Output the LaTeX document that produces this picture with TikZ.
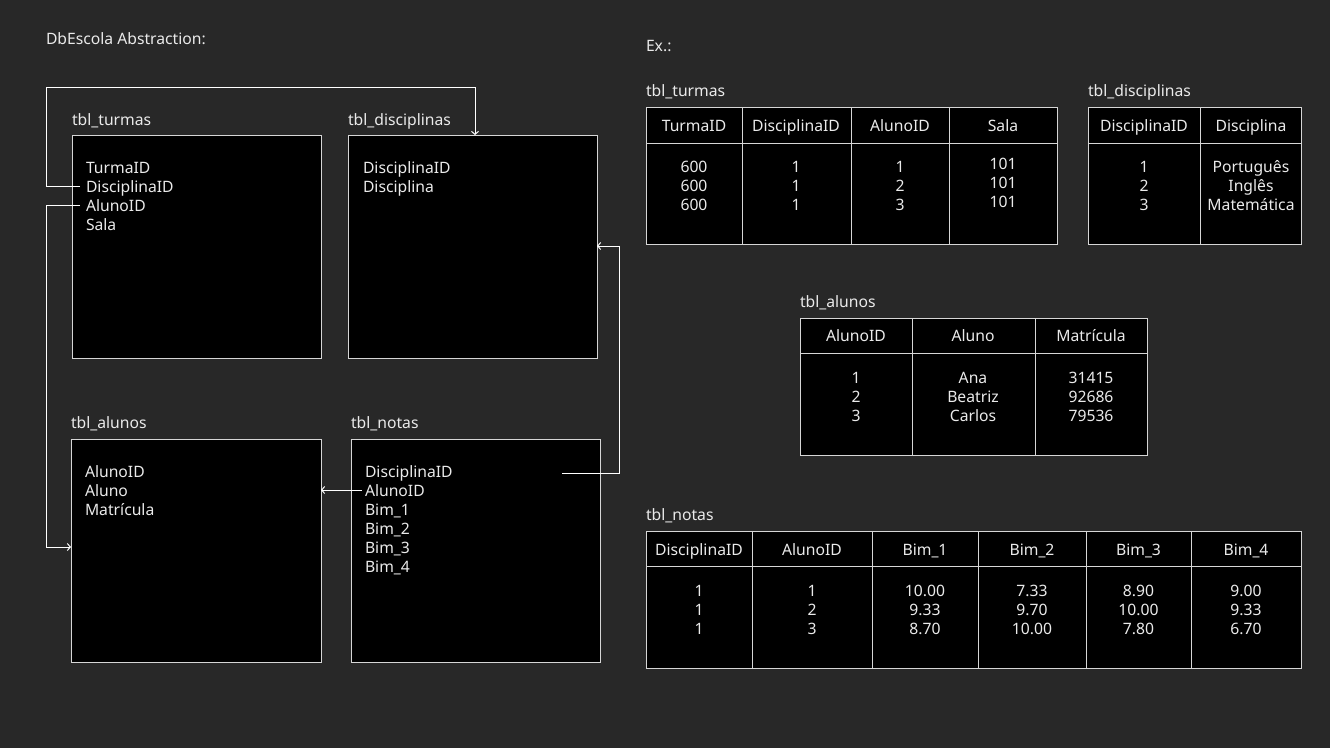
\documentclass[tikz,border=0pt]{standalone}
\usepackage{fontspec}
\setmainfont{Noto Sans}
\usetikzlibrary{arrows.meta}
\definecolor{bg}{HTML}{282828}
\definecolor{ink}{HTML}{EAEAEA}
\definecolor{rulec}{HTML}{D6D6D6}
\begin{document}
\begin{tikzpicture}[x=1pt,y=-1pt,
  every node/.style={text=ink,font=\fontsize{15.7}{19}\selectfont,inner sep=0pt,outer sep=0pt},
  one/.style={text height=12pt,text depth=0pt},
  lbl/.style={one,anchor=west},
  cell/.style={align=center},
  panel/.style={draw=rulec,fill=black,line width=1pt,anchor=north west},
  grid/.style={draw=rulec,line width=1pt},
  conn/.style={draw=white,line width=1pt},
  tip/.style={-{Straight Barb[length=3pt,width=7pt]}}]

\useasboundingbox[fill=bg] (0,0) rectangle (1330,748);

% ---------- titles ----------
\node[lbl] (title) at (46,38) {DbEscola Abstraction:};
\node[lbl] (ex) at (646,45) {Ex.:};

% ---------- schema panels ----------
\node[lbl] (lturmas) at (72,119) {tbl\_turmas};
\node[panel,minimum width=249pt,minimum height=223pt] (bturmas) at (72,135) {};
\node[lbl] (ldisc) at (348,119) {tbl\_disciplinas};
\node[panel,minimum width=249pt,minimum height=223pt] (bdisc) at (348,135) {};
\node[lbl] (lalunos) at (71,422) {tbl\_alunos};
\node[panel,minimum width=250pt,minimum height=223pt] (balunos) at (71,439) {};
\node[lbl] (lnotas) at (351,422) {tbl\_notas};
\node[panel,minimum width=249pt,minimum height=223pt] (bnotas) at (351,439) {};

% fields of tbl_turmas
\node[lbl] (t1) at (86,167) {TurmaID};
\node[lbl] (t2) at (86,186) {DisciplinaID};
\node[lbl] (t3) at (86,205) {AlunoID};
\node[lbl] (t4) at (86,224) {Sala};
% fields of tbl_disciplinas
\node[lbl] (d1) at (363,167) {DisciplinaID};
\node[lbl] (d2) at (363,186) {Disciplina};
% fields of tbl_alunos
\node[lbl] (a1) at (85,471) {AlunoID};
\node[lbl] (a2) at (85,490) {Aluno};
\node[lbl] (a3) at (85,509) {Matrícula};
% fields of tbl_notas
\node[lbl] (n1) at (365,471) {DisciplinaID};
\node[lbl] (n2) at (365,490) {AlunoID};
\node[lbl] (n3) at (365,509) {Bim\_1};
\node[lbl] (n4) at (365,528) {Bim\_2};
\node[lbl] (n5) at (365,547) {Bim\_3};
\node[lbl] (n6) at (365,566) {Bim\_4};

% ---------- relations ----------
\coordinate (s1) at (80,186);
\coordinate (s2) at (80,205);
\coordinate (s3) at (562,473);
\coordinate (s4) at (362,490);
\draw[conn,tip] (s1) -- (46,186) -- (46,87) -- (475,87) -- (bdisc.north -| 475,0);
\draw[conn,tip] (s2) -- (46,205) -- (46,547) -- (balunos.west |- 0,547);
\draw[conn,tip] (s3) -- (619,473) -- (619,246) -- (bdisc.east |- 0,246);
\draw[conn,tip] (s4) -- (balunos.east |- s4);

% ---------- example: tbl_turmas ----------
\node[lbl] (xturmas) at (646,90) {tbl\_turmas};
\node[panel,minimum width=411pt,minimum height=137pt] (gturmas) at (646,107) {};
\draw[grid] (646,143) -- (1057,143);
\foreach \x in {742,851,949} \draw[grid] (\x,107) -- (\x,244);
\foreach \x/\t [count=\i] in {694/TurmaID,796/DisciplinaID,900/AlunoID,1003/Sala}
  \node[one] (ht\i) at (\x,125) {\t};
\node[cell] (tc1) at (694,186) {600\\600\\600};
\node[cell] (tc2) at (796,186) {1\\1\\1};
\node[cell] (tc3) at (900,186) {1\\2\\3};
\node[cell] (tc4) at (1003,183) {101\\101\\101};

% ---------- example: tbl_disciplinas ----------
\node[lbl] (xdisc) at (1088,90) {tbl\_disciplinas};
\node[panel,minimum width=213pt,minimum height=137pt] (gdisc) at (1088,107) {};
\draw[grid] (1088,143) -- (1301,143);
\draw[grid] (1200,107) -- (1200,244);
\node[one] (hd1) at (1144,125) {DisciplinaID};
\node[one] (hd2) at (1251,125) {Disciplina};
\node[cell] (dc1) at (1144,186) {1\\2\\3};
\node[cell] (dc2) at (1251,186) {Português\\Inglês\\Matemática};

% ---------- example: tbl_alunos ----------
\node[lbl] (xalunos) at (800,301) {tbl\_alunos};
\node[panel,minimum width=347pt,minimum height=137pt] (galunos) at (800,318) {};
\draw[grid] (800,353) -- (1147,353);
\foreach \x in {912,1035} \draw[grid] (\x,318) -- (\x,455);
\node[one] (ha1) at (856,335) {AlunoID};
\node[one] (ha2) at (973,335) {Aluno};
\node[one] (ha3) at (1091,335) {Matrícula};
\node[cell] (ac1) at (856,397) {1\\2\\3};
\node[cell] (ac2) at (973,397) {Ana\\Beatriz\\Carlos};
\node[cell] (ac3) at (1091,397) {31415\\92686\\79536};

% ---------- example: tbl_notas ----------
\node[lbl] (xnotas) at (646,514) {tbl\_notas};
\node[panel,minimum width=655pt,minimum height=137pt] (gnotas) at (646,531) {};
\draw[grid] (646,566) -- (1301,566);
\foreach \x in {752,872,978,1086,1191} \draw[grid] (\x,531) -- (\x,668);
\foreach \x/\t [count=\i] in {699/DisciplinaID,812/AlunoID,925/Bim\_1,1032/Bim\_2,1138.5/Bim\_3,1246/Bim\_4}
  \node[one] (hn\i) at (\x,549) {\t};
\node[cell] (nc1) at (699,610) {1\\1\\1};
\node[cell] (nc2) at (812,610) {1\\2\\3};
\node[cell] (nc3) at (925,610) {10.00\\9.33\\8.70};
\node[cell] (nc4) at (1032,610) {7.33\\9.70\\10.00};
\node[cell] (nc5) at (1138.5,610) {8.90\\10.00\\7.80};
\node[cell] (nc6) at (1246,610) {9.00\\9.33\\6.70};
\end{tikzpicture}
\end{document}
